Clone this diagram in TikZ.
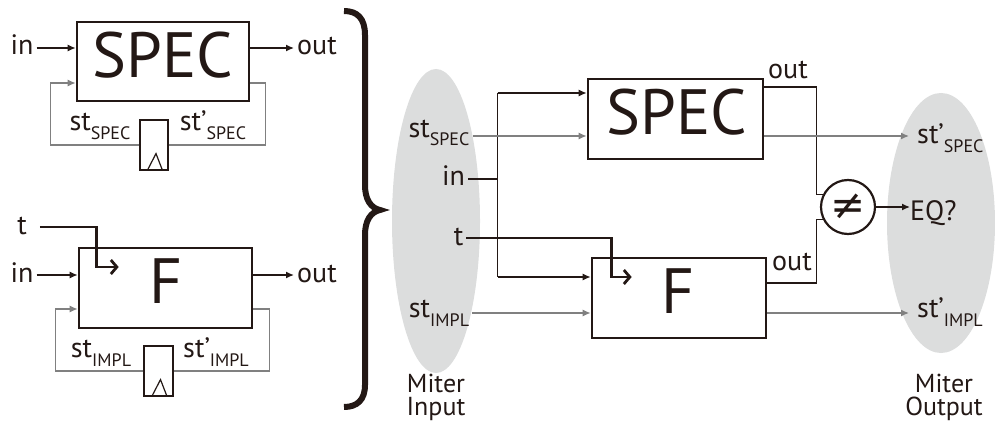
\documentclass[tikz,border=0pt]{standalone}
\usepackage{fontspec}
\setmainfont{PT Sans}
\newfontfamily\djv{DejaVu Sans}
\usetikzlibrary{arrows.meta,shapes.geometric}
\definecolor{ink}{HTML}{231815}
\definecolor{gline}{HTML}{808080}
\definecolor{ovl}{HTML}{DCDDDD}
\newcommand\mysub[1]{\raisebox{-9pt}{\fontsize{18}{18}\selectfont #1}}
\tikzset{
  lbl/.style={font=\fontsize{28}{28}\selectfont, text=ink, inner sep=3pt, anchor=base},
  captxt/.style={font=\fontsize{26}{23}\selectfont, text=ink, inner sep=0pt, anchor=north, align=center},
  blockbox/.style={draw=ink, line width=2.6pt, inner sep=0pt},
  bigtxt/.style={font=\fontsize{64}{64}\selectfont, text=ink, anchor=base, inner sep=0pt},
  blk/.style={draw=ink, line width=1.4pt},
  gry/.style={draw=gline, line width=1.4pt},
  arr/.style={-{Latex[length=8pt,width=7pt]}},
  thk/.style={draw=ink, line width=2.8pt, -{Straight Barb[length=6pt,width=14pt]}},
  ffbox/.style={draw=ink, line width=1.2pt, minimum width=28pt, minimum height=50pt, inner sep=0pt},
  clk/.style={draw=ink, line width=1.2pt},
  oval/.style={ellipse, fill=ovl, draw=none, inner sep=0pt},
}
\begin{document}
\begin{tikzpicture}[x=1pt,y=-1pt]
\useasboundingbox (0,0) rectangle (995,425);

% ---------------- top-left SPEC ----------------
\node[blockbox, minimum width=172pt, minimum height=79pt] (S1) at (163,61.5) {};
\node[bigtxt] (S1t) at (163,78) {SPEC};
\node[lbl] (in1) at (22,55) {in};
\node[lbl] (out1) at (317,55) {out};
\coordinate (a1) at ([yshift=7pt]in1.base east);
\draw[blk,arr] (a1) -- (a1 -| S1.west);
\coordinate (b1) at (S1.east |- a1);
\draw[blk,arr] (b1) -- (b1 -| out1.west);
\node[ffbox] (ff1) at (154,145) {};
\draw[clk] ([xshift=-6pt,yshift=1.5pt]ff1.south) -- ([xshift=2pt,yshift=17pt]ff1.south) -- ([xshift=8pt,yshift=1.5pt]ff1.south);
\coordinate (c1) at ([yshift=-21.5pt]S1.east);
\draw[gry] (c1) -- ++(15,0) |- (ff1.east);
\coordinate (c2) at ([xshift=-25pt,yshift=-21.5pt]S1.west);
\draw[gry,arr] (ff1.west) -| (c2) -- (c2 -| S1.west);
\node[lbl] (sts1) at (100,131) {st\mysub{SPEC}};
\node[lbl] (stps1) at (213,131) {st'\mysub{SPEC}};

% ---------------- bottom-left F ----------------
\node[blockbox, minimum width=173pt, minimum height=80pt] (F1) at (165.5,288) {};
\node[bigtxt] (F1t) at (166,303) {F};
\node[lbl] (t1) at (22,234) {t};
\node[lbl] (in3) at (22,282) {in};
\node[lbl] (out3) at (317,282) {out};
\coordinate (d1) at ([xshift=10pt,yshift=7pt]t1.base east);
\draw[thk] (d1) -| ([xshift=19pt,yshift=21pt]F1.west) -- ([xshift=41pt,yshift=21pt]F1.west);
\coordinate (a3) at ([yshift=7pt]in3.base east);
\draw[blk,arr] (a3) -- (a3 -| F1.west);
\coordinate (b3) at (F1.east |- a3);
\draw[blk,arr] (b3) -- (b3 -| out3.west);
\node[ffbox, minimum width=29pt] (ff2) at (158.5,371) {};
\draw[clk] ([xshift=-6pt,yshift=1.5pt]ff2.south) -- ([xshift=2pt,yshift=17pt]ff2.south) -- ([xshift=8pt,yshift=1.5pt]ff2.south);
\coordinate (c3) at ([yshift=-21pt]F1.east);
\draw[gry] (c3) -- ++(16,0) |- (ff2.east);
\coordinate (c4) at ([xshift=-22pt,yshift=-21pt]F1.west);
\draw[gry,arr] (ff2.west) -| (c4) -- (c4 -| F1.west);
\node[lbl] (sti1) at (101,357) {st\mysub{IMPL}};
\node[lbl] (stpi1) at (216,357) {st'\mysub{IMPL}};

% ---------------- brace ----------------
\draw[ink, line width=6pt] (344,11) .. controls (357,11) and (365,18) .. (365,35) -- (365,185)
  .. controls (365,200) and (371,208) .. (380,210)
  .. controls (371,212) and (365,220) .. (365,235) -- (365,385)
  .. controls (365,400) and (357,407) .. (344,407);

% ---------------- miter ----------------
\node[oval, minimum width=88pt, minimum height=304pt] (mi) at (436,221) {};
\node[oval, minimum width=108pt, minimum height=260pt] (mo) at (941,223) {};

\node[blockbox, minimum width=175pt, minimum height=80pt] (S2) at (675.5,119) {};
\node[bigtxt] (S2t) at (677,135) {SPEC};
\node[blockbox, minimum width=174pt, minimum height=80pt] (F2) at (679,298) {};
\node[bigtxt] (F2t) at (678,313) {F};

\node[lbl] (stS2) at (439,137) {st\mysub{SPEC}};
\node[lbl] (in2) at (453.5,185) {in};
\node[lbl] (t2) at (458.5,245) {t};
\node[lbl] (stI2) at (439,317) {st\mysub{IMPL}};
\node[captxt] (miIn) at (436,374) {Miter\\Input};

\coordinate (jt) at ([xshift=-89pt,yshift=26pt]S2.west);
\coordinate (jb) at ([xshift=-93pt,yshift=21pt]F2.west);
\draw[blk,arr] (jt) -- (jt -| S2.west);
\draw[blk,arr] (jb) -- (jb -| F2.west);
\draw[blk] (jt) -- (jb);
\coordinate (e2) at ([yshift=6pt]in2.base east);
\draw[blk] (e2) -- (e2 -| jt);

\coordinate (f2) at ([yshift=7pt]t2.base east);
\draw[thk] (f2) -| ([xshift=21pt,yshift=21pt]F2.west) -- ([xshift=41pt,yshift=21pt]F2.west);

\coordinate (g2) at ([yshift=-17pt]S2.west);
\draw[gry,arr] (stS2.east |- g2) -- (g2);
\coordinate (h2) at ([yshift=-15pt]F2.west);
\draw[gry,arr] (stI2.east |- h2) -- (h2);

\node[draw=ink, line width=2.2pt, circle, minimum size=54pt, inner sep=0pt, text=ink] (neq) at (848,207) {\djv\fontsize{42}{42}\selectfont ≠};

\coordinate (k2) at ([yshift=32pt]S2.east);
\draw[blk] (k2) -| ([xshift=-6pt]neq.154) -- (neq.154);
\coordinate (l2) at ([yshift=15pt]F2.east);
\draw[blk] (l2) -| ([xshift=-6pt]neq.206) -- (neq.206);
\node[lbl] (outS) at (788,79) {out};
\node[lbl] (outF) at (792,270) {out};

\node[lbl, anchor=base west, inner sep=0pt] (eq) at (910,220) {EQ?};
\draw[blk,arr] (neq.east) -- (neq.east -| eq.west);

\node[lbl, anchor=base west, inner sep=0pt] (stpS2) at (917,143) {st'\mysub{SPEC}};
\node[lbl, anchor=base west, inner sep=0pt] (stpI2) at (917,317) {st'\mysub{IMPL}};
\coordinate (m2) at ([yshift=-17pt]S2.east);
\coordinate (m3) at (m2 -| stpS2.west);
\draw[gry,arr] (m2) -- ([xshift=-8pt]m3);
\coordinate (n2) at ([yshift=-15pt]F2.east);
\coordinate (n3) at (n2 -| stpI2.west);
\draw[gry,arr] (n2) -- ([xshift=-8pt]n3);

\node[captxt] (moOut) at (944,374) {Miter\\Output};
\end{tikzpicture}
\end{document}
